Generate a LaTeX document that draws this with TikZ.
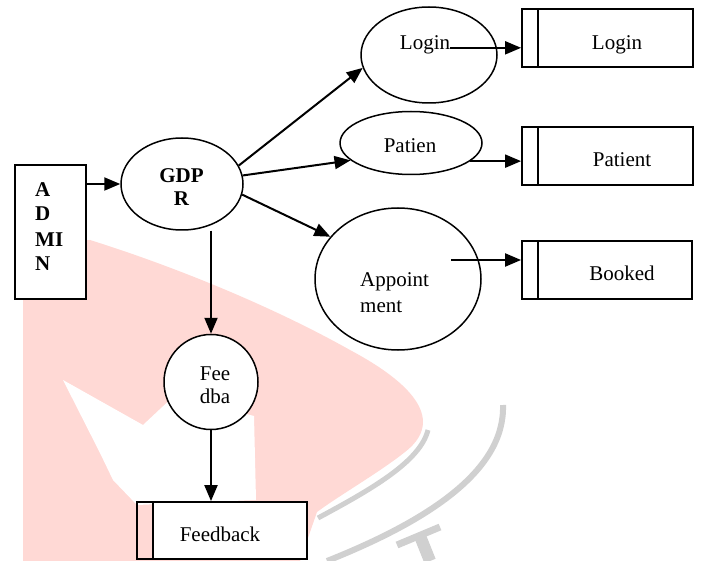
\documentclass[tikz,border=0pt]{standalone}
\usepackage{fontspec}
\setmainfont{Liberation Serif}
\usetikzlibrary{arrows.meta,shapes.geometric}
\definecolor{wmpink}{HTML}{FFD9D5}
\definecolor{wmgrey}{HTML}{D0D0D0}
\begin{document}
\begin{tikzpicture}[x=1pt,y=-1pt,
  txt/.style={font=\fontsize{21}{24}\selectfont, inner sep=0pt, anchor=base},
  btxt/.style={txt, font=\fontsize{21}{24}\selectfont\bfseries},
  proc/.style={ellipse, draw, line width=1.5pt, fill=white, inner sep=0pt},
  store/.style={rectangle, draw, line width=1.8pt, minimum width=170pt, minimum height=58pt, inner sep=0pt,
    path picture={\fill[white] ([xshift=16pt]path picture bounding box.north west) rectangle (path picture bounding box.south east);
      \draw[line width=1.8pt] ([xshift=16pt]path picture bounding box.north west) -- ([xshift=16pt]path picture bounding box.south west);}},
  arr/.style={-{Triangle[length=16pt,width=13pt]}, line width=2pt}]
\useasboundingbox (0,0) rectangle (701,561);
% watermark
\fill[wmpink] (23,561) -- (23,300) .. controls (23,262) and (50,240) .. (90,240)
  .. controls (170,265) and (270,305) .. (350,350)
  .. controls (425,390) and (440,425) .. (405,452)
  .. controls (380,472) and (340,495) .. (317,512) -- (300,561) -- cycle;
\fill[white] (63,380) -- (143,425) -- (175,395) -- (254,416) -- (256,500) -- (137,505) -- (113,480) -- (100,453) -- cycle;
\draw[wmgrey, line width=5pt] (428,430) .. controls (420,462) and (370,490) .. (318,518);
\draw[wmgrey, line width=6pt] (503,405) .. controls (505,470) and (430,520) .. (327,561);
\draw[wmgrey, line width=7pt] (397,545) -- (440,527);
\draw[wmgrey, line width=12pt] (420,536) -- (430,561);
% ADMIN
\node[draw, line width=1.8pt, fill=white, minimum width=71pt, minimum height=134pt, inner sep=0pt] (admin) at (50.5,232) {};
\node[btxt, anchor=base west] (ad1) at (35,197) {A};
\node[btxt, anchor=base west] (ad2) at (35,221) {D};
\node[btxt, anchor=base west] (ad3) at (35,247) {MI};
\node[btxt, anchor=base west] (ad4) at (35,270) {N};
% GDPR
\node[proc, minimum width=122pt, minimum height=92pt] (gdpr) at (182,184) {};
\node[btxt] (gdpr1) at (181.5,183) {GDP};
\node[btxt] (gdpr2) at (181.5,206) {R};
% Login
\node[proc, minimum width=136pt, minimum height=96pt] (login) at (429,55) {};
\node[txt] (logintxt) at (425,50) {Login};
\node[store, minimum width=171pt] (loginS) at (607.5,38) {};
\node[txt] (loginStxt) at (617,50) {Login};
% Patien
\node[proc, minimum width=142pt, minimum height=63pt] (patien) at (411,143) {};
\node[txt] (patientxt) at (410,152.7) {Patien};
\node[store, minimum width=171pt] (patientS) at (607.5,156) {};
\node[txt] (patientStxt) at (622,167) {Patient};
% Appointment
\node[proc, minimum width=166pt, minimum height=142pt] (appt) at (398,279) {};
\node[txt, anchor=base west] (appt1) at (360,287) {Appoint};
\node[txt, anchor=base west] (appt2) at (360,312) {ment};
\node[store] (bookedS) at (607,270) {};
\node[txt] (bookedStxt) at (622,280) {Booked};
% Feedback
\node[proc, minimum width=94pt, minimum height=95pt] (fee) at (211,382) {};
\node[txt] (fee1) at (215,380) {Fee};
\node[txt] (fee2) at (215,403) {dba};
\node[store, minimum height=57pt] (feedbackS) at (222,530.5) {};
\node[txt] (feedbackStxt) at (220,541) {Feedback};
% connectors
\draw[arr] (admin.east |- gdpr.west) -- (gdpr.west);
\draw[arr] (gdpr.18) -- (login.191);
\draw[arr] (gdpr.8) -- (patien.196);
\draw[arr] (gdpr.-10) -- (appt.148);
\draw[arr] (gdpr.south -| fee.north) -- (fee.north);
\draw[arr] (fee.south) -- (fee.south |- feedbackS.north);
\coordinate (ls) at ([yshift=-2.5pt]logintxt.east);
\draw[arr] (ls) -- (ls -| loginS.west);
\draw[arr] (patien.-17) -- (patien.-17 -| patientS.west);
\coordinate (apS) at ([xshift=53pt,yshift=19pt]appt.center);
\draw[arr] (apS) -- (apS -| bookedS.west);
\end{tikzpicture}
\end{document}
